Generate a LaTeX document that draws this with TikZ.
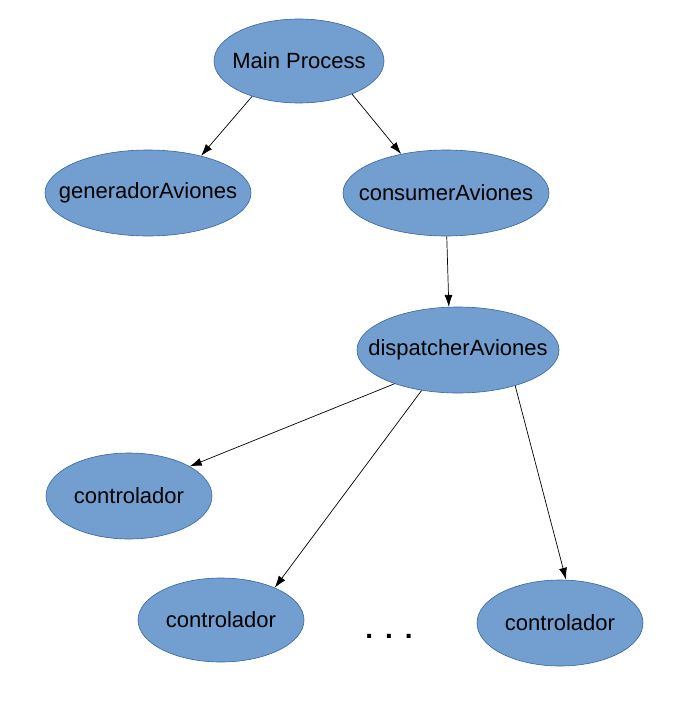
\documentclass[tikz,border=0pt]{standalone}
\usepackage{fontspec}
\setmainfont{Liberation Sans}
\usetikzlibrary{shapes.geometric,arrows.meta}
\definecolor{procfill}{HTML}{729FCF}
\definecolor{procline}{HTML}{3465A4}
\newcommand\plabel[1]{\makebox[0pt]{#1}}
\tikzset{
  proc/.style={ellipse, draw=procline, line width=0.6pt, fill=procfill,
    inner sep=0pt, minimum height=86pt,
    font=\fontsize{22}{26}\selectfont},
  link/.style={-{Latex[length=12pt,width=8pt]}, line width=0.7pt}
}
\begin{document}
\begin{tikzpicture}[x=1pt,y=-1pt]
      \useasboundingbox (0,0) rectangle (690,725);
      \draw
        (299,61) node[proc, minimum width=170pt, minimum height=84pt] (main){\plabel{Main Process}}
        (148,193) node[proc, minimum width=206pt] (gen){\plabel{generadorAviones}}
        (446,193) node[proc, minimum width=206pt] (cons){\plabel{consumerAviones}}
        (458,350) node[proc, minimum width=202pt] (disp){\plabel{dispatcherAviones}}
        (129,496) node[proc, minimum width=166pt] (ctrlA){\plabel{controlador}}
        (221,620) node[proc, minimum width=166pt, minimum height=84pt] (ctrlB){\plabel{controlador}}
        (560,623) node[proc, minimum width=166pt] (ctrlC){\plabel{controlador}}
        (389,636) node[font=\fontsize{28}{30}\selectfont\bfseries] (dots){.\hspace{12pt}.\hspace{12pt}.};
      \begin{scope}[link]
        \draw (main.217) to (gen.35);
        \draw (main.328) to (cons.139);
        \draw (cons.271) to (disp.102);
        \draw (disp.208) to (ctrlA.26);
        \draw (disp.228) to (ctrlB.31);
        \draw (disp.328) to (ctrlC.82);
      \end{scope}
    \end{tikzpicture}
\end{document}
